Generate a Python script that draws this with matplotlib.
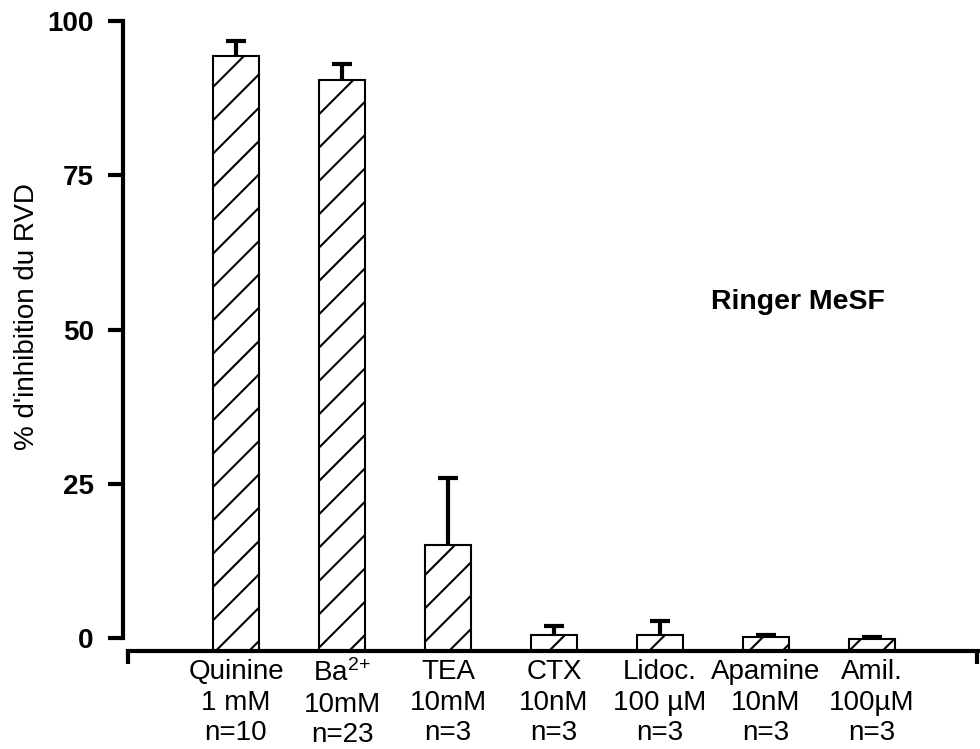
import numpy as np
import matplotlib
matplotlib.use("Agg")
import matplotlib.pyplot as plt

plt.rcParams['font.family'] = ['Liberation Sans', 'DejaVu Sans']
plt.rcParams['mathtext.fontset'] = 'custom'
plt.rcParams['mathtext.rm'] = 'Liberation Sans'
plt.rcParams['mathtext.default'] = 'regular'
plt.rcParams['hatch.linewidth'] = 1.5

# data
labels = ["Quinine\n1 mM\nn=10", "Ba$^{2{+}}$\n10mM\nn=23", "TEA\n10mM\nn=3",
          "CTX\n10nM\nn=3", "Lidoc.\n100 µM\nn=3", "Apamine\n10nM\nn=3",
          "Amil.\n100µM\nn=3"]
means = [94.3, 90.4, 15.0, 0.5, 0.5, 0.1, -0.2]
sem = [2.5, 2.6, 10.9, 1.4, 2.25, 0.45, 0.3]
yticks = [0, 25, 50, 75, 100]

x = np.arange(len(means))
base = -2.1

fig = plt.figure(figsize=(9.8, 7.49), dpi=100)
ax = fig.add_axes([123 / 980, 1 - 651 / 749, (978 - 123) / 980, (651 - 21) / 749])

heights = np.array(means) - base
ax.bar(x, heights, bottom=base, width=0.434, color='white', edgecolor='black',
       linewidth=1.5, hatch='/', zorder=2)

tops = np.array(means) + np.array(sem)
ax.vlines(x, means, tops, color='black', lw=3, zorder=3)
ax.hlines(tops, x - 0.09, x + 0.09, color='black', lw=3, zorder=3)

ax.set_xlim(-1.066, 7.0)
ax.set_ylim(base, 100)

for s in ['top', 'right']:
    ax.spines[s].set_visible(False)
ax.spines['left'].set_linewidth(3)
ax.spines['bottom'].set_linewidth(3)
ax.spines['left'].set_bounds(0, 100)
ax.spines['bottom'].set_bounds(-1.019, 7.0)

ax.set_yticks(yticks)
ax.set_yticklabels([str(v) for v in yticks], fontsize=20, fontweight='bold')
ax.tick_params(axis='y', length=11, width=3, pad=10)

ax.set_xticks(x)
ax.set_xticklabels(labels, fontsize=20, linespacing=1.22)
ax.tick_params(axis='x', which='major', length=0, pad=6)
ax.set_xticks([-1.019, 6.99], minor=True)
ax.tick_params(axis='x', which='minor', length=9, width=3, direction='out')

fig.text(27 / 980, 1 - 317 / 749, "% d'inhibition du RVD", rotation=90,
         fontsize=20, ha='center', va='center')
ax.text(5.3, 54.4, "Ringer MeSF", fontsize=20.5, fontweight='bold',
        ha='center', va='center')

fig.savefig("out.png", dpi=100)
